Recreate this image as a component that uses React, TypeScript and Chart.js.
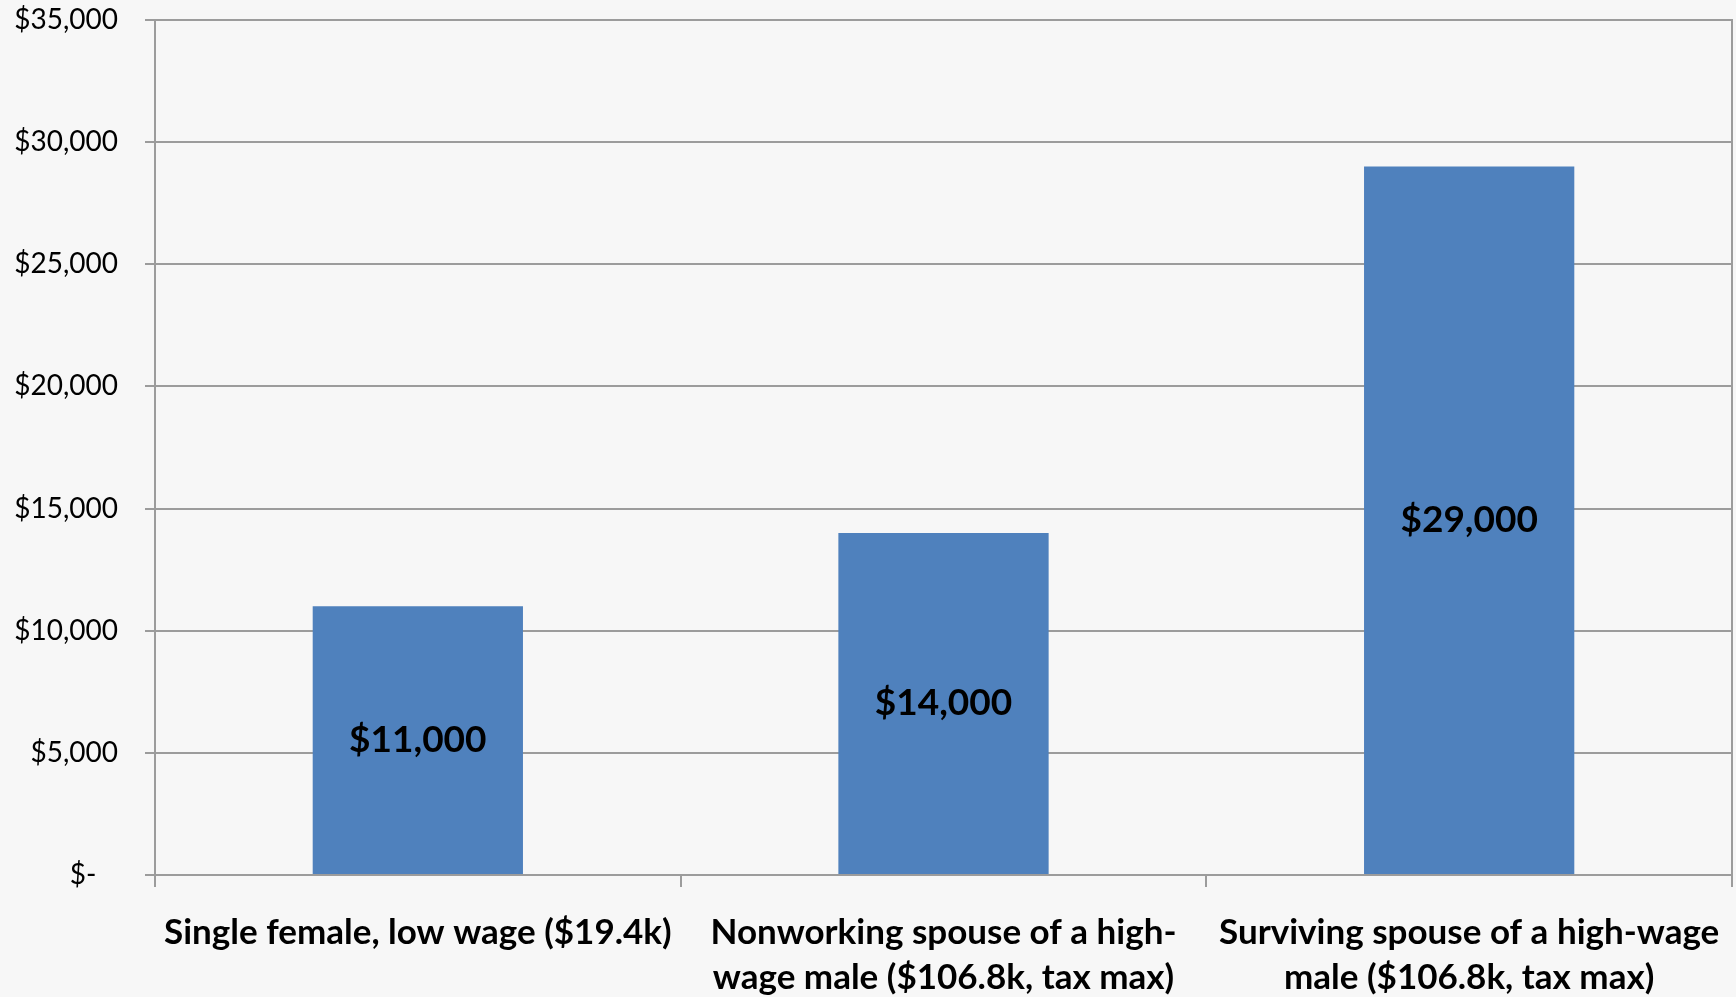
import React, { useEffect, useRef } from "react";
import { Chart, registerables } from "chart.js";

Chart.register(...registerables);

const categories: string[][] = [
  ["Single female, low wage ($19.4k)"],
  ["Nonworking spouse of a high-", "wage male ($106.8k, tax max)"],
  ["Surviving spouse of a high-wage", "male ($106.8k, tax max)"],
];
const benefitValues: number[] = [11000, 14000, 29000];
const yMin = 0;
const yMax = 35000;
const yStep = 5000;

const GRID = "#9c9c9c";
const BAR = "#4f81bd";
const FONT = "Lato, 'Open Sans', sans-serif";

const fmt = (v: number) => "$" + v.toLocaleString("en-US");

const valueLabelPlugin = {
  id: "valueLabels",
  afterDatasetsDraw(chart: any) {
    const { ctx } = chart;
    chart.data.datasets.forEach((ds: any, di: number) => {
      const meta = chart.getDatasetMeta(di);
      meta.data.forEach((el: any, i: number) => {
        const v = ds.data[i] as number;
        const yMid = (el.y + el.base) / 2;
        ctx.save();
        ctx.font = `bold 37px ${FONT}`;
        ctx.fillStyle = "#000";
        ctx.textAlign = "center";
        ctx.textBaseline = "middle";
        ctx.fillText(fmt(v), el.x, yMid);
        ctx.restore();
      });
    });
  },
};

export default function App() {
  const ref = useRef<HTMLCanvasElement | null>(null);

  useEffect(() => {
    if (!ref.current) return;
    const chart = new Chart(ref.current, {
      type: "bar",
      data: {
        labels: categories,
        datasets: [
          {
            data: benefitValues,
            backgroundColor: BAR,
            borderWidth: 0,
            barPercentage: 0.4,
            categoryPercentage: 1,
          },
        ],
      },
      options: {
        responsive: false,
        animation: false,
        layout: { padding: { top: 20, right: 4, left: 0, bottom: 0 } },
        plugins: {
          legend: { display: false },
          tooltip: { enabled: false },
          title: { display: false },
        },
        scales: {
          x: {
            offset: true,
            grid: {
              offset: true,
              drawOnChartArea: false,
              drawTicks: true,
              tickLength: 12,
              tickColor: GRID,
              tickWidth: 2,
              color: GRID,
              lineWidth: 2,
            },
            border: { display: true, color: GRID, width: 2 },
            ticks: {
              color: "#000",
              padding: 23,
              maxRotation: 0,
              minRotation: 0,
              autoSkip: false,
              font: { family: FONT, size: 35, weight: "bold", lineHeight: "45px" },
            },
            afterFit(scale: any) {
              scale.height = 122;
              scale.paddingLeft = 0;
              scale.paddingRight = 0;
            },
          },
          y: {
            min: yMin,
            max: yMax,
            ticks: {
              stepSize: yStep,
              color: "#000",
              padding: 27,
              font: { family: FONT, size: 28 },
              callback: (v: any) => (Number(v) === 0 ? "$-   " : fmt(Number(v))),
            },
            grid: {
              color: GRID,
              lineWidth: 2,
              drawTicks: true,
              tickLength: 10,
              tickColor: GRID,
            },
            border: { display: true, color: GRID, width: 2 },
            afterFit(scale: any) {
              scale.width = 155;
              scale.paddingTop = 0;
              scale.paddingBottom = 0;
            },
          },
          y2: {
            position: "right",
            display: true,
            grid: { display: false, drawTicks: false },
            ticks: { display: false },
            border: { display: true, color: GRID, width: 2 },
            afterFit(scale: any) {
              scale.width = 0;
            },
          },
        },
      },
      plugins: [valueLabelPlugin],
    });
    return () => chart.destroy();
  }, []);

  return (
    <div
      style={{
        position: "absolute",
        left: 0,
        top: 0,
        width: 1736,
        height: 997,
        background: "#f7f7f7",
        overflow: "hidden",
      }}
    >
      <canvas ref={ref} width={1736} height={997} style={{ display: "block" }} />
    </div>
  );
}
